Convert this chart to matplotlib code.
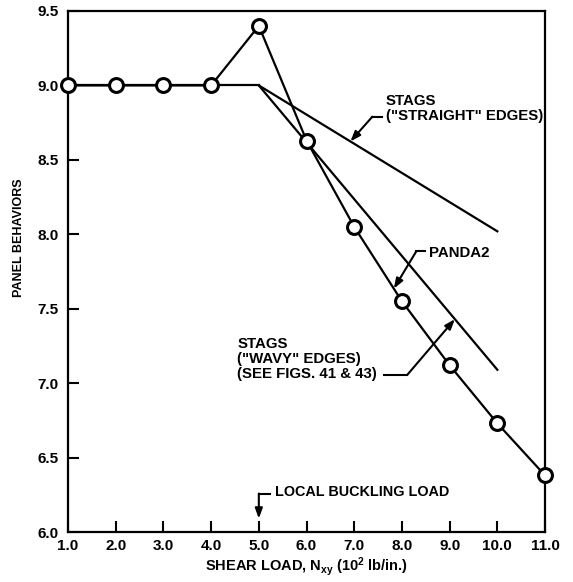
import numpy as np
import matplotlib
matplotlib.use("Agg")
import matplotlib.pyplot as plt

plt.rcParams['font.family'] = ['Liberation Sans', 'DejaVu Sans']
plt.rcParams['font.weight'] = 'bold'
plt.rcParams['axes.labelweight'] = 'bold'
plt.rcParams['mathtext.fontset'] = 'custom'
plt.rcParams['mathtext.rm'] = 'Liberation Sans:bold'
plt.rcParams['mathtext.it'] = 'Liberation Sans:bold'
plt.rcParams['mathtext.bf'] = 'Liberation Sans:bold'
plt.rcParams['mathtext.default'] = 'bf'

# shear load (10^2 lb/in.) and panel behaviour
load = [1.0, 2.0, 3.0, 4.0, 5.0, 6.0, 7.0, 8.0, 9.0, 10.0, 11.0]
panda2 = [9.0, 9.0, 9.0, 9.0, 9.4, 8.63, 8.05, 7.55, 7.12, 6.73, 6.38]

flat_load = [1.0, 5.0]
flat_val = [9.0, 9.0]
straight_load = [5.0, 10.0]
straight_val = [9.0, 8.02]
wavy_load = [5.0, 10.0]
wavy_val = [9.0, 7.09]

xticks = [1.0, 2.0, 3.0, 4.0, 5.0, 6.0, 7.0, 8.0, 9.0, 10.0, 11.0]
yticks = [6.0, 6.5, 7.0, 7.5, 8.0, 8.5, 9.0, 9.5]
buckling_load = 5.0

fig = plt.figure(figsize=(5.73, 5.82), dpi=100)
ax = fig.add_axes([0.1187, 0.0859, 0.8325, 0.8952])

lw = 1.6
ax.plot(flat_load, flat_val, color='black', lw=lw)
ax.plot(straight_load, straight_val, color='black', lw=lw)
ax.plot(wavy_load, wavy_val, color='black', lw=lw)
ax.plot(load, panda2, color='black', lw=lw, marker='o', ms=10,
        mfc='white', mec='black', mew=2.2, clip_on=False, zorder=5)

ax.set_xlim(1.0, 11.0)
ax.set_ylim(6.0, 9.5)
ax.set_xticks(xticks)
ax.set_xticklabels([f"{v:.1f}" for v in xticks])
ax.set_yticks(yticks)
ax.set_yticklabels([f"{v:.1f}" for v in yticks])
ax.tick_params(direction='in', length=8, width=1.5, labelsize=11, pad=5)
ax.tick_params(axis='y', pad=7)
for s in ax.spines.values():
    s.set_linewidth(1.6)

ax.set_xlabel("SHEAR LOAD, N$_{xy}$ (10$^2$ lb/in.)", fontsize=10.5)
ax.xaxis.set_label_coords(0.5, -0.045)
ax.set_ylabel("PANEL BEHAVIORS", fontsize=9)
ax.yaxis.set_label_coords(-0.09, 0.565)

fs = 10.8
arrow = dict(arrowstyle='-|>,head_length=0.6,head_width=0.22', color='black',
             lw=1.5, shrinkA=0, shrinkB=0)


def leader(start, corner_x, target_x, xs, ys):
    """Horizontal leader from the label, then an arrow onto the curve."""
    ty = np.interp(target_x, xs, ys)
    lx, ly = start
    ax.plot([lx, corner_x], [ly, ly], color='black', lw=1.5)
    ax.annotate('', xy=(target_x, ty), xytext=(corner_x, ly), arrowprops=arrow)


# STAGS straight edges
ax.text(7.66, 8.845, 'STAGS\n("STRAIGHT" EDGES)', fontsize=fs, ha='left',
        va='center', linespacing=1.15)
leader((7.58, 8.79), 7.38, 6.92, straight_load, straight_val)

# PANDA2
ax.text(8.56, 7.875, 'PANDA2', fontsize=fs, ha='left', va='center')
leader((8.48, 7.885), 8.30, 7.83, load, panda2)

# STAGS wavy edges
ax.text(4.55, 7.163, 'STAGS\n("WAVY" EDGES)\n(SEE FIGS. 41 & 43)', fontsize=fs,
        ha='left', va='center', linespacing=1.1)
leader((7.62, 7.055), 8.11, 9.11, wavy_load, wavy_val)

# local buckling load marker
ax.text(5.34, 6.27, 'LOCAL BUCKLING LOAD', fontsize=10.4, ha='left', va='center')
ax.plot([5.24, buckling_load], [6.258, 6.258], color='black', lw=1.5)
ax.annotate('', xy=(buckling_load, 6.09), xytext=(buckling_load, 6.258),
            arrowprops=arrow)

fig.savefig('out.png', dpi=100)
